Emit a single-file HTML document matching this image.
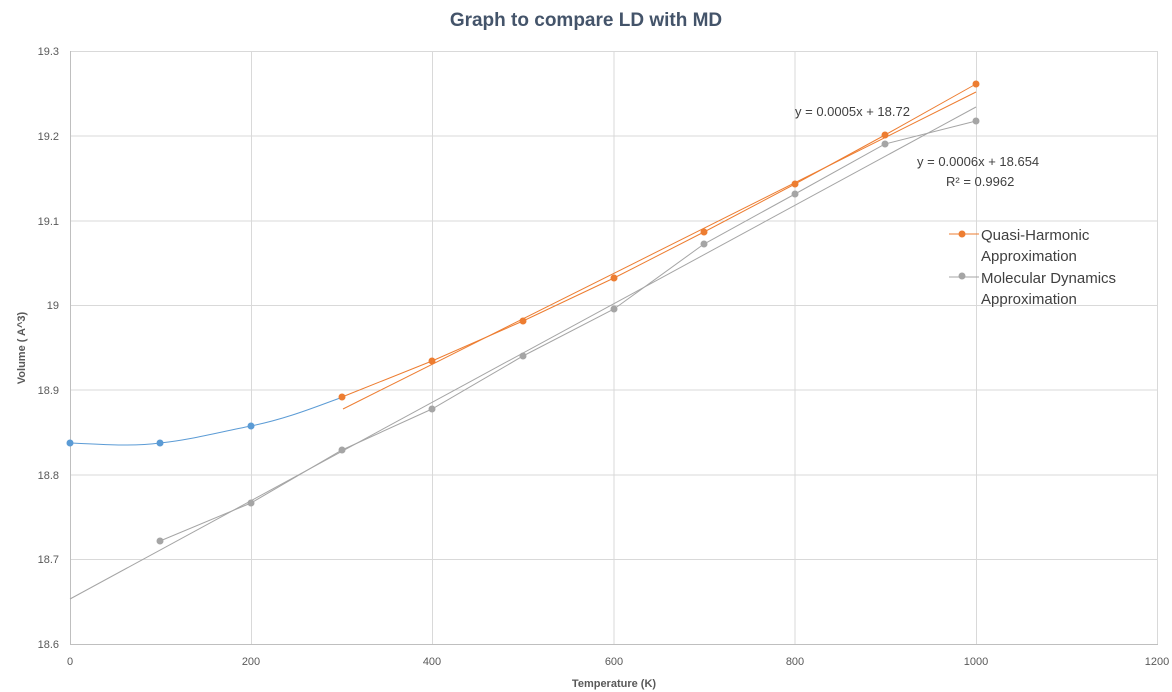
<!DOCTYPE html>
<html><head><meta charset="utf-8"><style>body{margin:0;background:#fff}svg{display:block}text{font-family:"Liberation Sans",sans-serif}</style></head>
<body>
<svg width="1172" height="692" viewBox="0 0 1172 692" xmlns="http://www.w3.org/2000/svg">
<rect width="1172" height="692" fill="#fff"/>
<text x="586" y="26" text-anchor="middle" font-size="19" font-weight="bold" fill="#44546a">Graph to compare LD with MD</text>
<g stroke="#d9d9d9" stroke-width="1">
<line x1="70" y1="51.5" x2="1158" y2="51.5"/><line x1="70" y1="136" x2="1158" y2="136"/><line x1="70" y1="221" x2="1158" y2="221"/><line x1="70" y1="305.5" x2="1158" y2="305.5"/><line x1="70" y1="390" x2="1158" y2="390"/><line x1="70" y1="475" x2="1158" y2="475"/><line x1="70" y1="559.5" x2="1158" y2="559.5"/>
<line x1="251.5" y1="51" x2="251.5" y2="644"/><line x1="432.5" y1="51" x2="432.5" y2="644"/><line x1="614" y1="51" x2="614" y2="644"/><line x1="795" y1="51" x2="795" y2="644"/><line x1="976.5" y1="51" x2="976.5" y2="644"/><line x1="1157.5" y1="51" x2="1157.5" y2="644"/>
</g>
<line x1="70" y1="644.5" x2="1158" y2="644.5" stroke="#bfbfbf"/>
<line x1="70.5" y1="51" x2="70.5" y2="644" stroke="#bfbfbf"/>
<g font-size="11" fill="#595959" text-anchor="end">
<text x="59" y="55">19.3</text><text x="59" y="140">19.2</text><text x="59" y="225">19.1</text><text x="59" y="309">19</text><text x="59" y="394">18.9</text><text x="59" y="479">18.8</text><text x="59" y="563">18.7</text><text x="59" y="648">18.6</text>
</g>
<g font-size="11" fill="#595959" text-anchor="middle">
<text x="70" y="665">0</text><text x="251" y="665">200</text><text x="432" y="665">400</text><text x="614" y="665">600</text><text x="795" y="665">800</text><text x="976" y="665">1000</text><text x="1157" y="665">1200</text>
</g>
<text x="614" y="687" text-anchor="middle" font-size="11" font-weight="bold" fill="#595959">Temperature (K)</text>
<text transform="translate(25,348) rotate(-90)" text-anchor="middle" font-size="11" font-weight="bold" fill="#595959">Volume ( A^3)</text>
<!-- trendlines -->
<line x1="70" y1="599" x2="976" y2="107" stroke="#a5a5a5" stroke-width="1"/>
<line x1="343" y1="409" x2="976" y2="92" stroke="#ed7d31" stroke-width="1"/>
<!-- blue -->
<path d="M70,443 C100,444 130,447 160,443 C190,440 220,432 251,426 C290,418 320,405 343,397" fill="none" stroke="#5b9bd5" stroke-width="1"/>
<g fill="#5b9bd5"><circle cx="70" cy="443" r="3.5"/><circle cx="160" cy="443" r="3.5"/><circle cx="251" cy="426" r="3.5"/></g>
<!-- grey -->
<polyline points="160,541 251,503 342,450 432,409 523,356 614,309 704,244 795,194 885,144 976,121" fill="none" stroke="#a5a5a5" stroke-width="1"/>
<g fill="#a5a5a5"><circle cx="160" cy="541" r="3.5"/><circle cx="251" cy="503" r="3.5"/><circle cx="342" cy="450" r="3.5"/><circle cx="432" cy="409" r="3.5"/><circle cx="523" cy="356" r="3.5"/><circle cx="614" cy="309" r="3.5"/><circle cx="704" cy="244" r="3.5"/><circle cx="795" cy="194" r="3.5"/><circle cx="885" cy="144" r="3.5"/><circle cx="976" cy="121" r="3.5"/></g>
<!-- orange -->
<polyline points="342,397 432,361 523,321 614,278 704,232 795,184 885,135 976,84" fill="none" stroke="#ed7d31" stroke-width="1"/>
<g fill="#ed7d31"><circle cx="342" cy="397" r="3.5"/><circle cx="432" cy="361" r="3.5"/><circle cx="523" cy="321" r="3.5"/><circle cx="614" cy="278" r="3.5"/><circle cx="704" cy="232" r="3.5"/><circle cx="795" cy="184" r="3.5"/><circle cx="885" cy="135" r="3.5"/><circle cx="976" cy="84" r="3.5"/></g>
<g font-size="13" fill="#404040">
<text x="795" y="116">y = 0.0005x + 18.72</text>
<text x="917" y="166">y = 0.0006x + 18.654</text>
<text x="946" y="186">R² = 0.9962</text>
</g>
<line x1="949" y1="234" x2="979" y2="234" stroke="#ed7d31"/><circle cx="962" cy="234" r="3.5" fill="#ed7d31"/>
<line x1="949" y1="277" x2="979" y2="277" stroke="#a5a5a5"/><circle cx="962" cy="276" r="3.5" fill="#a5a5a5"/>
<g font-size="15" fill="#404040">
<text x="981" y="240">Quasi-Harmonic</text><text x="981" y="261">Approximation</text>
<text x="981" y="283">Molecular Dynamics</text><text x="981" y="304">Approximation</text>
</g>
</svg>
</body></html>
